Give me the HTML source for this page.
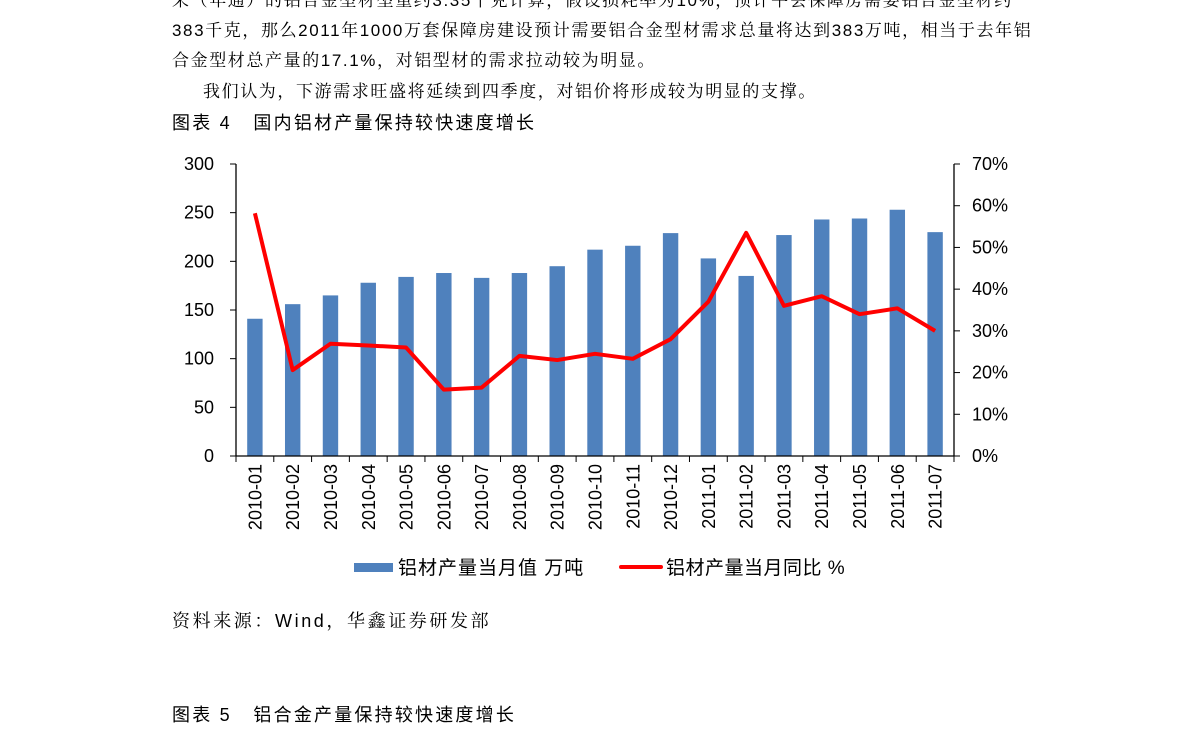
<!DOCTYPE html>
<html><head><meta charset="utf-8">
<style>
html,body{margin:0;padding:0;background:#fff;}
body{width:1191px;height:745px;overflow:hidden;position:relative;font-family:"Liberation Sans","Noto Sans CJK SC",sans-serif;color:#000;}
.t{position:absolute;left:172px;font-size:17px;white-space:nowrap;font-family:"Liberation Sans","Noto Serif CJK SC",serif;letter-spacing:1.6px;}
svg{position:absolute;left:0;top:0;}
</style></head><body>
<div class="t" style="top:-14px">来（年通）的铝合金型材型重约3.35千克计算，假设损耗率为10%，预计平会保障房需要铝合金型材约</div>
<div class="t" style="top:16px">383千克，那么2011年1000万套保障房建设预计需要铝合金型材需求总量将达到383万吨，相当于去年铝</div>
<div class="t" style="top:46px">合金型材总产量的17.1%，对铝型材的需求拉动较为明显。</div>
<div class="t" style="top:77px;left:203px">我们认为，下游需求旺盛将延续到四季度，对铝价将形成较为明显的支撑。</div>
<div class="t" style="top:109px;font-size:18px;letter-spacing:2.2px;font-family:'Liberation Sans','Noto Sans CJK SC',sans-serif">图表 4&nbsp;&nbsp;&nbsp;国内铝材产量保持较快速度增长</div>
<div class="t" style="top:607px;font-size:18px;letter-spacing:2.6px;font-family:'Liberation Sans','Noto Serif CJK SC',serif">资料来源：Wind，华鑫证券研发部</div>
<div class="t" style="top:701px;font-size:18px;letter-spacing:2.2px;font-family:'Liberation Sans','Noto Sans CJK SC',sans-serif">图表 5&nbsp;&nbsp;&nbsp;铝合金产量保持较快速度增长</div>
<svg id="c" width="1191" height="745" font-family="Liberation Sans, Noto Sans CJK SC, sans-serif"></svg>
<script>
var bars=[141,156,165,178,184,188,183,188,195,212,216,229,203,185,227,243,244,253,230];
var pct=[58.2,20.6,26.9,26.5,26,15.9,16.4,24,23,24.5,23.3,28,37,53.5,36,38.3,34,35.4,30];
var labs=["2010-01","2010-02","2010-03","2010-04","2010-05","2010-06","2010-07","2010-08","2010-09","2010-10","2010-11","2010-12","2011-01","2011-02","2011-03","2011-04","2011-05","2011-06","2011-07"];
var x0=236,x1=954,y0=456,yt=164,w=(x1-x0)/19,s='';
for(var i=0;i<19;i++){var cx=x0+w*(i+.5),h=bars[i]*(y0-yt)/300;
s+='<rect x="'+(cx-7.7)+'" y="'+(y0-h)+'" width="15.4" height="'+h+'" fill="#4f81bd"/>';}
s+='<line x1="'+x0+'" y1="'+yt+'" x2="'+x0+'" y2="'+y0+'" stroke="#000" stroke-width="1.3"/>';
s+='<line x1="'+x1+'" y1="'+yt+'" x2="'+x1+'" y2="'+y0+'" stroke="#000" stroke-width="1.3"/>';
s+='<line x1="'+x0+'" y1="'+y0+'" x2="'+x1+'" y2="'+y0+'" stroke="#000" stroke-width="1.3"/>';
for(var k=0;k<=6;k++){var y=y0-k*(y0-yt)/6;
s+='<line x1="'+(x0-6)+'" y1="'+y+'" x2="'+x0+'" y2="'+y+'" stroke="#000"/>';
s+='<text x="'+(x0-22)+'" y="'+(y+6)+'" font-size="18" text-anchor="end">'+(k*50)+'</text>';}
for(var k=0;k<=7;k++){var y=y0-k*(y0-yt)/7;
s+='<line x1="'+x1+'" y1="'+y+'" x2="'+(x1+6)+'" y2="'+y+'" stroke="#000"/>';
s+='<text x="'+(x1+18)+'" y="'+(y+6)+'" font-size="18">'+(k*10)+'%</text>';}
for(var i=0;i<=19;i++){var x=x0+w*i;s+='<line x1="'+x+'" y1="'+y0+'" x2="'+x+'" y2="'+(y0+6)+'" stroke="#000"/>';}
for(var i=0;i<19;i++){var cx=x0+w*(i+.5);
s+='<text transform="translate('+(cx+6.5)+',464) rotate(-90)" font-size="18" text-anchor="end">'+labs[i]+'</text>';}
var p='';for(var i=0;i<19;i++){p+=(x0+w*(i+.5))+','+(y0-pct[i]*(y0-yt)/70)+' ';}
s+='<polyline points="'+p+'" fill="none" stroke="#ff0000" stroke-width="4" stroke-linejoin="round"/>';
s+='<rect x="354" y="563" width="39" height="9" fill="#4f81bd"/>';
s+='<text x="398" y="574" font-size="19" letter-spacing="1">铝材产量当月值 万吨</text>';
s+='<line x1="621" y1="567" x2="661" y2="567" stroke="#ff0000" stroke-width="4" stroke-linecap="round"/>';
s+='<text x="666" y="574" font-size="19" letter-spacing="0.5">铝材产量当月同比 %</text>';
document.getElementById('c').innerHTML=s;
</script>
</body></html>
